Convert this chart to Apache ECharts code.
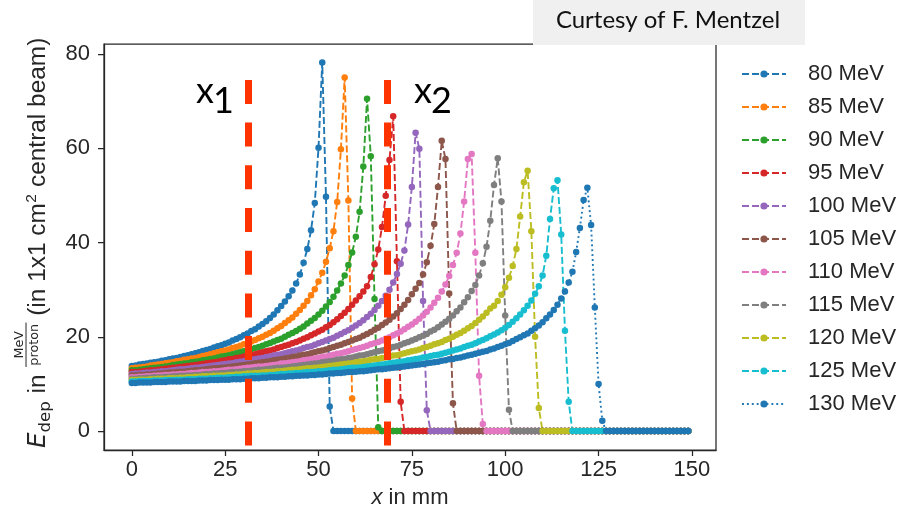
<!DOCTYPE html>
<html><head><meta charset="utf-8">
<script src="https://cdn.jsdelivr.net/npm/echarts@6/dist/echarts.min.js"></script>
<style>html,body{margin:0;padding:0;background:#fff}#c{width:907px;height:511px}</style>
</head><body><div id="c"></div>
<script>
const energies = ['80 MeV','85 MeV','90 MeV','95 MeV','100 MeV','105 MeV','110 MeV','115 MeV','120 MeV','125 MeV','130 MeV'];
const xTicks = [0, 25, 50, 75, 100, 125, 150];
const yTicks = [0, 20, 40, 60, 80];
const markerX = [31.2, 68.5];
const xs = [
0,1,2,3,4,5,6,7,8,9,
10,11,12,13,14,15,16,17,18,19,
20,21,22,23,24,25,26,27,28,29,
30,31,32,33,34,35,36,37,38,39,
40,41,42,43,44,45,46,47,48,49,
50,51,52,53,54,55,56,57,58,59,
60,61,62,63,64,65,66,67,68,69,
70,71,72,73,74,75,76,77,78,79,
80,81,82,83,84,85,86,87,88,89,
90,91,92,93,94,95,96,97,98,99,
100,101,102,103,104,105,106,107,108,109,
110,111,112,113,114,115,116,117,118,119,
120,121,122,123,124,125,126,127,128,129,
130,131,132,133,134,135,136,137,138,139,
140,141,142,143,144,145,146,147,148,149];
const e80 = [
13.8,13.9,14.1,14.2,14.3,14.5,14.6,14.7,14.9,15.0,
15.2,15.4,15.5,15.7,15.9,16.1,16.3,16.5,16.7,17.0,
17.2,17.4,17.7,18.0,18.2,18.5,18.8,19.2,19.5,19.9,
20.3,20.7,21.2,21.6,22.2,22.7,23.3,24.0,24.7,25.6,
26.5,27.5,28.6,29.8,31.3,33.2,35.7,38.6,42.6,48.4,
60.1,78.2,49.7,5.2,0,0,0,0,0,0,
0,0,0,0,0,0,0,0,0,0,
0,0,0,0,0,0,0,0,0,0,
0,0,0,0,0,0,0,0,0,0,
0,0,0,0,0,0,0,0,0,0,
0,0,0,0,0,0,0,0,0,0,
0,0,0,0,0,0,0,0,0,0,
0,0,0,0,0,0,0,0,0,0,
0,0,0,0,0,0,0,0,0,0,
0,0,0,0,0,0,0,0,0,0];
const e85 = [
13.3,13.4,13.5,13.6,13.7,13.9,14.0,14.1,14.2,14.4,
14.5,14.6,14.8,14.9,15.1,15.2,15.4,15.5,15.7,15.9,
16.1,16.3,16.5,16.7,16.9,17.1,17.3,17.6,17.8,18.1,
18.4,18.7,19.0,19.3,19.7,20.0,20.4,20.8,21.3,21.8,
22.3,22.9,23.5,24.1,24.9,25.7,26.6,27.6,28.8,30.1,
31.7,33.6,35.9,38.8,42.4,48.6,59.8,75.0,48.9,6.9,
0,0,0,0,0,0,0,0,0,0,
0,0,0,0,0,0,0,0,0,0,
0,0,0,0,0,0,0,0,0,0,
0,0,0,0,0,0,0,0,0,0,
0,0,0,0,0,0,0,0,0,0,
0,0,0,0,0,0,0,0,0,0,
0,0,0,0,0,0,0,0,0,0,
0,0,0,0,0,0,0,0,0,0,
0,0,0,0,0,0,0,0,0,0];
const e90 = [
12.9,12.9,13.0,13.1,13.2,13.3,13.4,13.5,13.6,13.7,
13.8,14.0,14.1,14.2,14.3,14.4,14.6,14.7,14.8,15.0,
15.1,15.3,15.4,15.6,15.8,15.9,16.1,16.3,16.5,16.7,
16.9,17.1,17.4,17.6,17.8,18.1,18.4,18.7,19.0,19.3,
19.6,20.0,20.4,20.8,21.2,21.7,22.2,22.8,23.4,24.0,
24.7,25.5,26.4,27.4,28.5,29.8,31.3,33.0,35.2,37.9,
41.2,46.5,56.1,70.5,58.3,28.0,0.8,0,0,0,
0,0,0,0,0,0,0,0,0,0,
0,0,0,0,0,0,0,0,0,0,
0,0,0,0,0,0,0,0,0,0,
0,0,0,0,0,0,0,0,0,0,
0,0,0,0,0,0,0,0,0,0,
0,0,0,0,0,0,0,0,0,0,
0,0,0,0,0,0,0,0,0,0,
0,0,0,0,0,0,0,0,0,0];
const e95 = [
12.5,12.5,12.6,12.7,12.8,12.9,12.9,13.0,13.1,13.2,
13.3,13.4,13.5,13.6,13.7,13.8,13.9,14.0,14.1,14.2,
14.4,14.5,14.6,14.7,14.9,15.0,15.2,15.3,15.5,15.6,
15.8,16.0,16.1,16.3,16.5,16.7,16.9,17.1,17.3,17.6,
17.8,18.1,18.3,18.6,18.9,19.2,19.6,19.9,20.3,20.7,
21.1,21.5,22.0,22.5,23.1,23.7,24.4,25.1,25.9,26.8,
27.7,28.6,29.6,30.7,32.7,35.4,38.5,43.3,49.9,57.5,
66.8,36.0,6.2,0,0,0,0,0,0,0,
0,0,0,0,0,0,0,0,0,0,
0,0,0,0,0,0,0,0,0,0,
0,0,0,0,0,0,0,0,0,0,
0,0,0,0,0,0,0,0,0,0,
0,0,0,0,0,0,0,0,0,0,
0,0,0,0,0,0,0,0,0,0,
0,0,0,0,0,0,0,0,0,0];
const e100 = [
12.1,12.2,12.2,12.3,12.4,12.4,12.5,12.6,12.7,12.7,
12.8,12.9,13.0,13.1,13.1,13.2,13.3,13.4,13.5,13.6,
13.7,13.8,13.9,14.0,14.1,14.2,14.3,14.4,14.6,14.7,
14.8,14.9,15.1,15.2,15.4,15.5,15.7,15.8,16.0,16.2,
16.3,16.5,16.7,16.9,17.1,17.3,17.6,17.8,18.0,18.3,
18.6,18.9,19.2,19.5,19.8,20.2,20.6,21.0,21.4,21.9,
22.4,22.9,23.5,24.2,24.9,25.7,26.6,27.6,28.7,30.0,
31.5,33.3,35.5,38.3,43.8,51.8,63.3,59.9,27.6,4.4,
0,0,0,0,0,0,0,0,0,0,
0,0,0,0,0,0,0,0,0,0,
0,0,0,0,0,0,0,0,0,0,
0,0,0,0,0,0,0,0,0,0,
0,0,0,0,0,0,0,0,0,0,
0,0,0,0,0,0,0,0,0,0,
0,0,0,0,0,0,0,0,0,0];
const e105 = [
11.8,11.8,11.9,11.9,12.0,12.0,12.1,12.2,12.2,12.3,
12.4,12.4,12.5,12.6,12.6,12.7,12.8,12.9,12.9,13.0,
13.1,13.2,13.3,13.3,13.4,13.5,13.6,13.7,13.8,13.9,
14.0,14.1,14.2,14.4,14.5,14.6,14.7,14.8,15.0,15.1,
15.2,15.4,15.5,15.7,15.8,16.0,16.2,16.3,16.5,16.7,
16.9,17.1,17.3,17.6,17.8,18.1,18.3,18.6,18.9,19.2,
19.5,19.8,20.2,20.6,21.0,21.5,21.9,22.5,23.0,23.6,
24.3,25.0,25.9,26.8,27.8,29.0,30.2,31.4,33.2,35.8,
39.3,43.9,51.8,61.6,57.7,29.2,5.9,0,0,0,
0,0,0,0,0,0,0,0,0,0,
0,0,0,0,0,0,0,0,0,0,
0,0,0,0,0,0,0,0,0,0,
0,0,0,0,0,0,0,0,0,0,
0,0,0,0,0,0,0,0,0,0,
0,0,0,0,0,0,0,0,0,0];
const e110 = [
11.4,11.4,11.5,11.5,11.6,11.6,11.7,11.8,11.8,11.9,
11.9,12.0,12.0,12.1,12.1,12.2,12.3,12.3,12.4,12.5,
12.5,12.6,12.7,12.7,12.8,12.9,13.0,13.0,13.1,13.2,
13.3,13.4,13.5,13.6,13.7,13.7,13.8,13.9,14.0,14.1,
14.3,14.4,14.5,14.6,14.7,14.8,15.0,15.1,15.2,15.4,
15.5,15.7,15.8,16.0,16.2,16.4,16.5,16.7,16.9,17.2,
17.4,17.6,17.8,18.1,18.4,18.6,18.9,19.2,19.6,19.9,
20.3,20.7,21.1,21.6,22.1,22.6,23.2,23.8,24.5,25.3,
26.2,27.2,28.3,29.6,31.1,32.9,35.2,37.8,41.9,48.7,
57.7,58.8,37.8,11.7,1.5,0,0,0,0,0,
0,0,0,0,0,0,0,0,0,0,
0,0,0,0,0,0,0,0,0,0,
0,0,0,0,0,0,0,0,0,0,
0,0,0,0,0,0,0,0,0,0,
0,0,0,0,0,0,0,0,0,0];
const e115 = [
11.1,11.1,11.2,11.2,11.3,11.3,11.4,11.4,11.4,11.5,
11.5,11.6,11.6,11.7,11.7,11.8,11.8,11.9,11.9,12.0,
12.1,12.1,12.2,12.2,12.3,12.3,12.4,12.5,12.5,12.6,
12.7,12.7,12.8,12.9,13.0,13.0,13.1,13.2,13.3,13.4,
13.4,13.5,13.6,13.7,13.8,13.9,14.0,14.1,14.2,14.3,
14.4,14.6,14.7,14.8,14.9,15.1,15.2,15.3,15.5,15.6,
15.8,16.0,16.1,16.3,16.5,16.7,16.9,17.1,17.3,17.5,
17.8,18.0,18.3,18.6,18.9,19.2,19.5,19.9,20.2,20.6,
21.1,21.5,22.0,22.6,23.2,23.8,24.5,25.4,26.2,27.3,
28.4,29.7,31.0,33.0,35.6,39.1,44.6,52.2,57.9,48.7,
24.5,4.5,0,0,0,0,0,0,0,0,
0,0,0,0,0,0,0,0,0,0,
0,0,0,0,0,0,0,0,0,0,
0,0,0,0,0,0,0,0,0,0,
0,0,0,0,0,0,0,0,0,0];
const e120 = [
10.8,10.8,10.9,10.9,10.9,11.0,11.0,11.1,11.1,11.1,
11.2,11.2,11.2,11.3,11.3,11.4,11.4,11.5,11.5,11.6,
11.6,11.6,11.7,11.7,11.8,11.8,11.9,11.9,12.0,12.0,
12.1,12.2,12.2,12.3,12.3,12.4,12.5,12.5,12.6,12.7,
12.7,12.8,12.9,13.0,13.0,13.1,13.2,13.3,13.3,13.4,
13.5,13.6,13.7,13.8,13.9,14.0,14.1,14.2,14.3,14.4,
14.6,14.7,14.8,14.9,15.1,15.2,15.3,15.5,15.6,15.8,
16.0,16.1,16.3,16.5,16.7,16.9,17.1,17.3,17.6,17.8,
18.1,18.4,18.6,18.9,19.3,19.6,20.0,20.4,20.8,21.3,
21.8,22.3,22.9,23.6,24.3,25.1,26.0,26.6,27.6,28.9,
30.5,32.5,35.0,38.6,45.5,52.8,55.2,42.4,20.0,4.9,
0,0,0,0,0,0,0,0,0,0,
0,0,0,0,0,0,0,0,0,0,
0,0,0,0,0,0,0,0,0,0,
0,0,0,0,0,0,0,0,0,0];
const e125 = [
10.5,10.5,10.6,10.6,10.6,10.6,10.7,10.7,10.7,10.8,
10.8,10.8,10.9,10.9,10.9,11.0,11.0,11.0,11.1,11.1,
11.1,11.2,11.2,11.3,11.3,11.3,11.4,11.4,11.5,11.5,
11.6,11.6,11.7,11.7,11.7,11.8,11.8,11.9,11.9,12.0,
12.1,12.1,12.2,12.2,12.3,12.3,12.4,12.5,12.5,12.6,
12.7,12.7,12.8,12.9,13.0,13.0,13.1,13.2,13.3,13.4,
13.4,13.5,13.6,13.7,13.8,13.9,14.0,14.1,14.2,14.4,
14.5,14.6,14.7,14.8,15.0,15.1,15.3,15.4,15.6,15.7,
15.9,16.1,16.2,16.4,16.6,16.8,17.1,17.3,17.5,17.8,
18.1,18.3,18.6,19.0,19.3,19.7,20.1,20.5,20.9,21.4,
21.9,22.5,23.2,23.9,24.7,25.6,26.6,27.7,29.1,30.7,
33.0,37.2,45.0,51.5,53.2,41.7,21.3,6.2,0,0,
0,0,0,0,0,0,0,0,0,0,
0,0,0,0,0,0,0,0,0,0,
0,0,0,0,0,0,0,0,0,0];
const e130 = [
10.2,10.2,10.3,10.3,10.3,10.3,10.4,10.4,10.4,10.4,
10.5,10.5,10.5,10.5,10.6,10.6,10.6,10.6,10.7,10.7,
10.7,10.8,10.8,10.8,10.9,10.9,10.9,11.0,11.0,11.0,
11.1,11.1,11.2,11.2,11.2,11.3,11.3,11.4,11.4,11.4,
11.5,11.5,11.6,11.6,11.7,11.7,11.8,11.8,11.9,11.9,
12.0,12.0,12.1,12.2,12.2,12.3,12.3,12.4,12.5,12.5,
12.6,12.7,12.7,12.8,12.9,13.0,13.1,13.1,13.2,13.3,
13.4,13.5,13.6,13.7,13.8,13.9,14.0,14.1,14.2,14.4,
14.5,14.6,14.7,14.9,15.0,15.2,15.3,15.5,15.6,15.8,
16.0,16.2,16.4,16.6,16.8,17.0,17.3,17.5,17.8,18.1,
18.4,18.7,19.1,19.5,19.9,20.3,20.7,21.3,21.8,22.4,
23.1,23.9,24.7,25.7,26.8,28.1,29.6,31.5,33.8,38.0,
43.1,49.0,51.6,43.7,26.2,10.0,2.2,0,0,0,
0,0,0,0,0,0,0,0,0,0,
0,0,0,0,0,0,0,0,0,0];

const seriesValues = [e80, e85, e90, e95, e100, e105, e110, e115, e120, e125, e130];
const colors = ['#1f77b4','#ff7f0e','#2ca02c','#d62728','#9467bd','#8c564b','#e377c2','#7f7f7f','#bcbd22','#17becf','#1f77b4'];
const INK = '#262626';
const SANS = '"Liberation Sans", Arial, sans-serif';
const MATH = '"DejaVu Sans", sans-serif';

const chart = echarts.init(document.getElementById('c'), null, {renderer: 'canvas'});

const series = seriesValues.map((vals, i) => ({
  name: energies[i],
  type: 'line',
  data: xs.map((x, j) => [x, vals[j]]),
  symbol: 'circle',
  symbolSize: 6.5,
  showAllSymbol: true,
  clip: false,
  silent: true,
  animation: false,
  itemStyle: {color: colors[i]},
  lineStyle: {color: colors[i], width: 1.9, type: i === 10 ? [1.9, 3] : [7, 3], cap: 'butt'},
  emphasis: {disabled: true}
}));

series.push({
  name: 'markers',
  type: 'line',
  data: [],
  silent: true,
  animation: false,
  z: 10,
  markLine: {
    silent: true,
    symbol: 'none',
    animation: false,
    label: {show: false},
    lineStyle: {color: '#ff3300', width: 7, type: [24, 18.7], cap: 'butt'},
    data: markerX.map(x => [{coord: [x, 74.5]}, {coord: [x, -3.2]}])
  }
});

// y axis title (rotated group)
const fs = 22;
const yTitle = {
  type: 'group',
  x: 46, y: 448,
  rotation: Math.PI / 2,
  scaleX: 1.11, scaleY: 1.11,
  children: [
    {type: 'text', x: 0, y: -6.6, style: {text: 'E', font: 'italic ' + fs + 'px ' + MATH, fill: INK, textAlign: 'left', textVerticalAlign: 'middle'}},
    {type: 'text', x: 14, y: -0.6, style: {text: 'dep', font: '15px ' + MATH, fill: INK, textAlign: 'left', textVerticalAlign: 'middle'}},
    {type: 'text', x: 43, y: -6.6, style: {text: ' in ', font: fs + 'px ' + SANS, fill: INK, textAlign: 'left', textVerticalAlign: 'middle'}},
    {type: 'text', x: 93, y: -24, style: {text: 'MeV', font: '11.5px ' + MATH, fill: INK, textAlign: 'center', textVerticalAlign: 'middle'}},
    {type: 'line', shape: {x1: 73, y1: -18, x2: 113, y2: -18}, style: {stroke: INK, lineWidth: 0.9}},
    {type: 'text', x: 93, y: -10.5, style: {text: 'proton', font: '11.5px ' + MATH, fill: INK, textAlign: 'center', textVerticalAlign: 'middle'}},
    {type: 'text', x: 113, y: -6.6, style: {text: ' (in 1x1 cm', font: fs + 'px ' + SANS, fill: INK, textAlign: 'left', textVerticalAlign: 'middle'}},
    {type: 'text', x: 221, y: -13, style: {text: '2', font: '14px ' + SANS, fill: INK, textAlign: 'left', textVerticalAlign: 'middle'}},
    {type: 'text', x: 229, y: -6.6, style: {text: ' central beam)', font: fs + 'px ' + SANS, fill: INK, textAlign: 'left', textVerticalAlign: 'middle'}}
  ]
};

const option = {
  backgroundColor: '#ffffff',
  animation: false,
  color: colors,
  grid: {left: 104, right: 191, top: 44, bottom: 61, show: true, borderColor: INK, borderWidth: 1.25, backgroundColor: '#ffffff', containLabel: false, outerBoundsMode: 'none'},
  xAxis: {
    type: 'value', min: -7.45, max: 156.45,
    axisLine: {show: true, onZero: false, lineStyle: {color: INK, width: 1.25}},
    axisTick: {show: true, customValues: xTicks, length: 6, lineStyle: {color: INK, width: 1.25}},
    axisLabel: {customValues: xTicks, fontSize: fs, color: INK, fontFamily: SANS, margin: 9},
    splitLine: {show: false},
    name: '{i|x} in mm', nameLocation: 'middle', nameGap: 37,
    nameTextStyle: {fontSize: fs, color: INK, fontFamily: SANS, rich: {i: {fontStyle: 'italic', fontSize: fs, color: INK, fontFamily: SANS}}}
  },
  yAxis: {
    type: 'value', min: -4.03, max: 82.12,
    axisLine: {show: true, onZero: false, lineStyle: {color: INK, width: 1.25}},
    axisTick: {show: true, customValues: yTicks, length: 6, lineStyle: {color: INK, width: 1.25}},
    axisLabel: {customValues: yTicks, fontSize: fs, color: INK, fontFamily: SANS, margin: 14},
    splitLine: {show: false}
  },
  legend: {
    orient: 'vertical', left: 736, top: 58,
    data: energies,
    itemWidth: 44, itemHeight: 9, itemGap: 11,
    selectedMode: false,
    textStyle: {fontSize: fs, color: INK, fontFamily: SANS, lineHeight: 22, padding: [0, 0, 0, 17]}
  },
  graphic: [
    yTitle,
    {type: 'rect', z: 100, shape: {x: 533, y: 0, width: 272, height: 45}, style: {fill: '#f0f0f0'}},
    {type: 'text', z: 101, x: 668, y: 20, style: {text: 'Curtesy of F. Mentzel', font: '24px Lato, "Open Sans", sans-serif', fill: '#111', textAlign: 'center', textVerticalAlign: 'middle'}},
    {type: 'text', z: 101, x: 196, y: 91, style: {text: 'x', font: '36px Lato, sans-serif', fill: '#000', textAlign: 'left', textVerticalAlign: 'middle'}},
    {type: 'text', z: 101, x: 213, y: 101, style: {text: '1', font: '36px Lato, sans-serif', fill: '#000', textAlign: 'left', textVerticalAlign: 'middle'}},
    {type: 'text', z: 101, x: 414, y: 91, style: {text: 'x', font: '36px Lato, sans-serif', fill: '#000', textAlign: 'left', textVerticalAlign: 'middle'}},
    {type: 'text', z: 101, x: 431, y: 101, style: {text: '2', font: '36px Lato, sans-serif', fill: '#000', textAlign: 'left', textVerticalAlign: 'middle'}}
  ],
  series: series
};
chart.setOption(option);
</script>
</body></html>
